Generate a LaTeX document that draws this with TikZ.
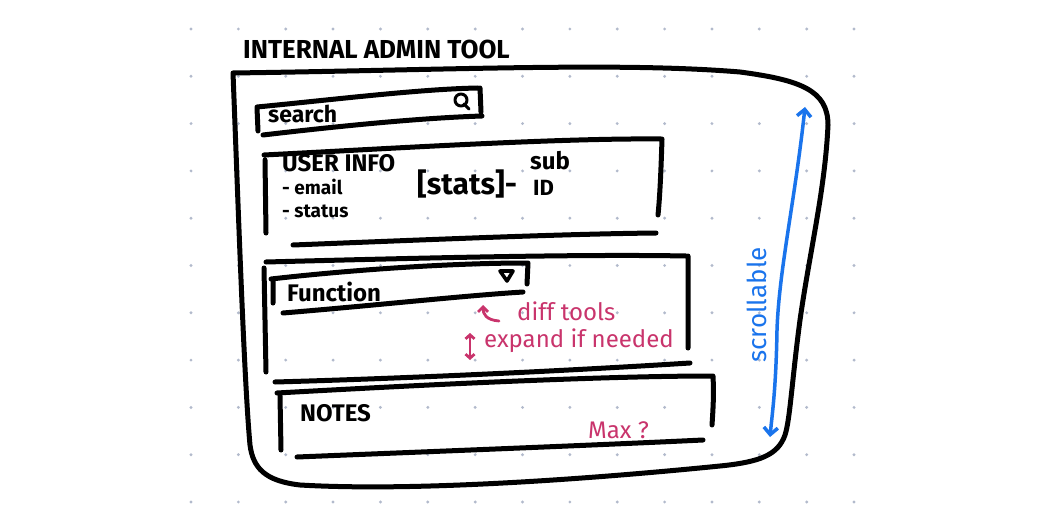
\documentclass[tikz,border=0pt]{standalone}
\usepackage{fontspec}
\setsansfont{Fira Sans}
\usetikzlibrary{arrows.meta, positioning}
\definecolor{pinkink}{RGB}{201,52,108}
\definecolor{blueink}{RGB}{26,116,236}
\definecolor{griddot}{RGB}{178,186,204}

\begin{document}
\begin{tikzpicture}[
    x=1pt, y=-1pt,
    ink/.style={line width=5pt, line cap=round, line join=round, draw=black},
    thinink/.style={line width=3pt, line cap=round, line join=round, draw=black},
    hand/.style={font=\sffamily\bfseries\fontsize{#1}{#1}\selectfont, inner sep=0pt, anchor=west},
    hand/.default=20,
    pinknote/.style={font=\sffamily\fontsize{#1}{#1}\selectfont, text=pinkink, inner sep=0pt, anchor=west},
    pinknote/.default=22,
    pinkarrow/.style={line width=2.8pt, line cap=round, draw=pinkink},
    scrollarrow/.style={line width=3.5pt, line cap=round, draw=blueink, {Straight Barb[length=7pt, width=14pt]}-{Straight Barb[length=7pt, width=14pt]}}
]
    \useasboundingbox (0,0) rectangle (1044,516);
    \fill[white] (0,0) rectangle (1044,516);

    % dot grid
    \foreach \i in {0,...,14} {
        \foreach \j in {0,...,10} {
            \fill[griddot] ({191+47.36*\i},{29+47.3*\j}) circle (1.6);
        }
    }

    \node[hand=26] (title) at (243,49) {INTERNAL ADMIN TOOL};

    % outer window
    \draw[ink] (233,73) .. controls (450,70) and (620,62) .. (740,72)
        .. controls (800,80) and (828,90) .. (828,125)
        .. controls (825,190) and (810,250) .. (800,320)
        .. controls (792,380) and (790,420) .. (785,435)
        .. controls (778,455) and (760,462) .. (720,466)
        .. controls (600,478) and (420,492) .. (300,485)
        .. controls (265,481) and (253,468) .. (250,445)
        .. controls (244,380) and (238,200) .. (233,73);

    % search bar
    \draw[ink] (257,108) -- (258,131)
        (257,107) .. controls (330,100) and (420,89) .. (478,88)
        (480,88) -- (481,112)
        (263,135) .. controls (340,126) and (420,118) .. (482,116);
    \node[hand=23] (searchlbl) at (268,114) {search};
    \draw[thinink] (461,100) circle (6) (464,104) -- (469,109);

    % user info
    \draw[ink] (265,160) -- (266,233)
        (264,155) .. controls (400,148) and (560,138) .. (661,139)
        (662,139) .. controls (661,170) and (660,195) .. (658,215)
        (293,245) .. controls (420,240) and (560,234) .. (656,233);
    \node[hand=24] (userinfo) at (282,163) {USER INFO};
    \node[hand=19] (email) at (282,187) {- email};
    \node[hand=19] (status) at (282,211) {- status};
    \node[hand=30] (stats) at (417,184) {[stats]-};
    \node[hand=24] (sub) at (530,161) {sub};
    \node[hand=22] (subid) at (533,188) {ID};

    % function section
    \draw[ink] (264,268) -- (266,372)
        (266,262) .. controls (420,258) and (580,254) .. (686,256)
        (688,256) -- (688,348)
        (275,382) .. controls (420,378) and (580,370) .. (690,363);
    \draw[ink] (273,280) -- (273,303)
        (271,279) .. controls (350,270) and (450,263) .. (527,263)
        (528,263) -- (527,284)
        (283,313) .. controls (380,305) and (460,296) .. (523,292);
    \node[hand=24] (function) at (287,292) {Function};
    \draw[line width=3.6pt, line join=round, fill=white] (500,271) -- (513,271) -- (507,281) -- cycle;

    \node[pinknote=24] (difftools) at (517,311) {diff tools};
    \coordinate (hookstart) at (499,321);
    \coordinate (hookend) at (483,305);
    \draw[pinkarrow, -{Straight Barb[length=5pt, width=10pt]}] (hookstart) .. controls (486,320) and (483,314) .. (hookend);
    \node[pinknote=24] (expand) at (484,341) {expand if needed};
    \coordinate (exptop) at (470,333);
    \coordinate (expbot) at (470,360);
    \draw[pinkarrow, {Straight Barb[length=4pt, width=9pt]}-{Straight Barb[length=4pt, width=9pt]}] (exptop) -- (expbot);

    % notes
    \draw[ink] (280,396) -- (281,450)
        (277,393) .. controls (420,385) and (600,376) .. (712,376)
        (713,376) .. controls (714,395) and (713,410) .. (712,425)
        (297,457) .. controls (420,452) and (600,445) .. (703,440);
    \node[hand=24] (notes) at (300,413) {NOTES};
    \node[pinknote=24] (max) at (588,430) {Max ?};

    % scroll
    \coordinate (scrolltop) at (805,107);
    \coordinate (scrollbot) at (770,437);
    \draw[scrollarrow] (scrolltop) .. controls (795,200) and (779,270) .. (777,330)
        .. controls (776,390) and (772,415) .. (scrollbot);
    \node[font=\sffamily\fontsize{26}{26}\selectfont, text=blueink, inner sep=0pt, rotate=90] (scrollable) at (757,305) {scrollable};
\end{tikzpicture}
\end{document}
